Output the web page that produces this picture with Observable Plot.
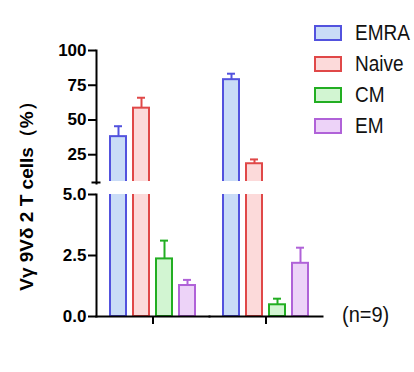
<!DOCTYPE html>
<html>
<head>
<meta charset="utf-8">
<script src="https://cdn.jsdelivr.net/npm/d3@7"></script>
<script src="https://cdn.jsdelivr.net/npm/@observablehq/plot@0.6"></script>
<style>
  html, body { margin: 0; padding: 0; background: #fff; }
  #wrap { position: relative; width: 414px; height: 372px; font-family: "Liberation Sans", Arial, sans-serif; }
  #legend { position: absolute; left: 314px; top: 17px; }
  .item { display: flex; align-items: center; height: 31px; }
  .box { width: 24px; height: 12px; border-width: 2px; border-style: solid; margin-right: 13px; }
  .lab { font-size: 19px; color: #111; display: inline-block; transform: scaleY(1.15); }
  #n { position: absolute; left: 342px; top: 303px; font-size: 20px; color: #111; transform: scaleY(1.1); }
</style>
</head>
<body>
<div id="wrap"><div id="chart"></div><div id="legend"></div><div id="n">(n=9)</div></div>
<script>
const groups = ["A", "B"];
const subsets = ["EMRA", "Naive", "CM", "EM"];
const meansA = [38, 58.5, 2.36, 1.27];
const errsA = [7.5, 7.5, 0.75, 0.23];
const meansB = [79, 18.5, 0.48, 2.18];
const errsB = [4.3, 3.1, 0.25, 0.64];
const strokes = ["#5252de", "#e04848", "#22ae22", "#b062d8"];
const fills = ["#c9dcf7", "#fcdada", "#d2f5d2", "#edd3f8"];
const upperTicks = [25, 50, 75, 100];
const lowerTicks = [0, 2.5, 5];
const yLabel = "Vγ 9Vδ 2 T cells（%）";
const breakLow = 5, breakHigh = 5.00001;

const data = [];
groups.forEach((g, gi) => {
  const m = gi === 0 ? meansA : meansB;
  const e = gi === 0 ? errsA : errsB;
  subsets.forEach((s, i) => data.push({group: g, subset: s, mean: m[i], top: m[i] + e[i],
    stroke: strokes[i], fill: fills[i]}));
});

const font = "'Liberation Sans', Arial, sans-serif";
const chart = Plot.plot({
  width: 414, height: 372,
  marginLeft: 95, marginRight: 92, marginTop: 50, marginBottom: 56,
  style: {fontFamily: font, background: "transparent"},
  fx: {domain: groups, paddingInner: 0, paddingOuter: 0, label: null, axis: null},
  x: {domain: subsets, paddingInner: 0.3, paddingOuter: 0.545, axis: null},
  y: {type: "linear", domain: [0, breakLow, breakHigh, 100], range: [316, 194, 182, 50], axis: null},
  marks: [
    Plot.barY(data, {fx: "group", x: "subset", y1: 0, y2: "mean", fill: d => d.fill, stroke: d => d.stroke, strokeWidth: 2}),
    Plot.ruleX(data, {fx: "group", x: "subset", y1: "mean", y2: "top", stroke: d => d.stroke, strokeWidth: 2}),
    Plot.tickY(data, {fx: "group", x: "subset", y: "top", stroke: d => d.stroke, strokeWidth: 2, inset: 4}),
    Plot.rect([0], {y1: () => breakLow, y2: () => breakHigh, fill: "white", insetTop: -1}),
    Plot.frame({anchor: "left", insetBottom: 133, strokeWidth: 2, stroke: "#000", facetAnchor: "left"}),
    Plot.frame({anchor: "left", insetTop: 144, strokeWidth: 2, stroke: "#000", facetAnchor: "left"}),
    Plot.frame({anchor: "bottom", strokeWidth: 2, stroke: "#000"}),
    Plot.axisY({ticks: upperTicks, tickFormat: d3.format("d"), tickSize: 8, tickPadding: 2, strokeWidth: 2,
      fontSize: 17, fontWeight: "bold", color: "#000", label: null}),
    Plot.axisY({ticks: lowerTicks, tickFormat: d3.format(".1f"), tickSize: 8, tickPadding: 2, strokeWidth: 2,
      fontSize: 17, fontWeight: "bold", color: "#000", label: null}),
    Plot.axisY({ticks: [breakHigh], tickFormat: () => "", tickSize: 9, dx: 4.5, strokeWidth: 2, label: null}),
    Plot.axisFx({anchor: "bottom", tickSize: 8, tickFormat: () => "", strokeWidth: 2, label: null}),
    Plot.text([yLabel], {text: d => d, frameAnchor: "left", textAnchor: "middle", rotate: -90, dx: -70, dy: 8,
      fontSize: 19, fontWeight: "bold", fill: "#000", facetAnchor: "left"})
  ]
});
document.getElementById("chart").append(chart);

const legend = document.getElementById("legend");
subsets.forEach((s, i) => {
  const it = document.createElement("div");
  it.className = "item";
  it.innerHTML = `<div class="box" style="border-color:${strokes[i]};background:${fills[i]}"></div><span class="lab">${s}</span>`;
  legend.append(it);
});
</script>
</body>
</html>
